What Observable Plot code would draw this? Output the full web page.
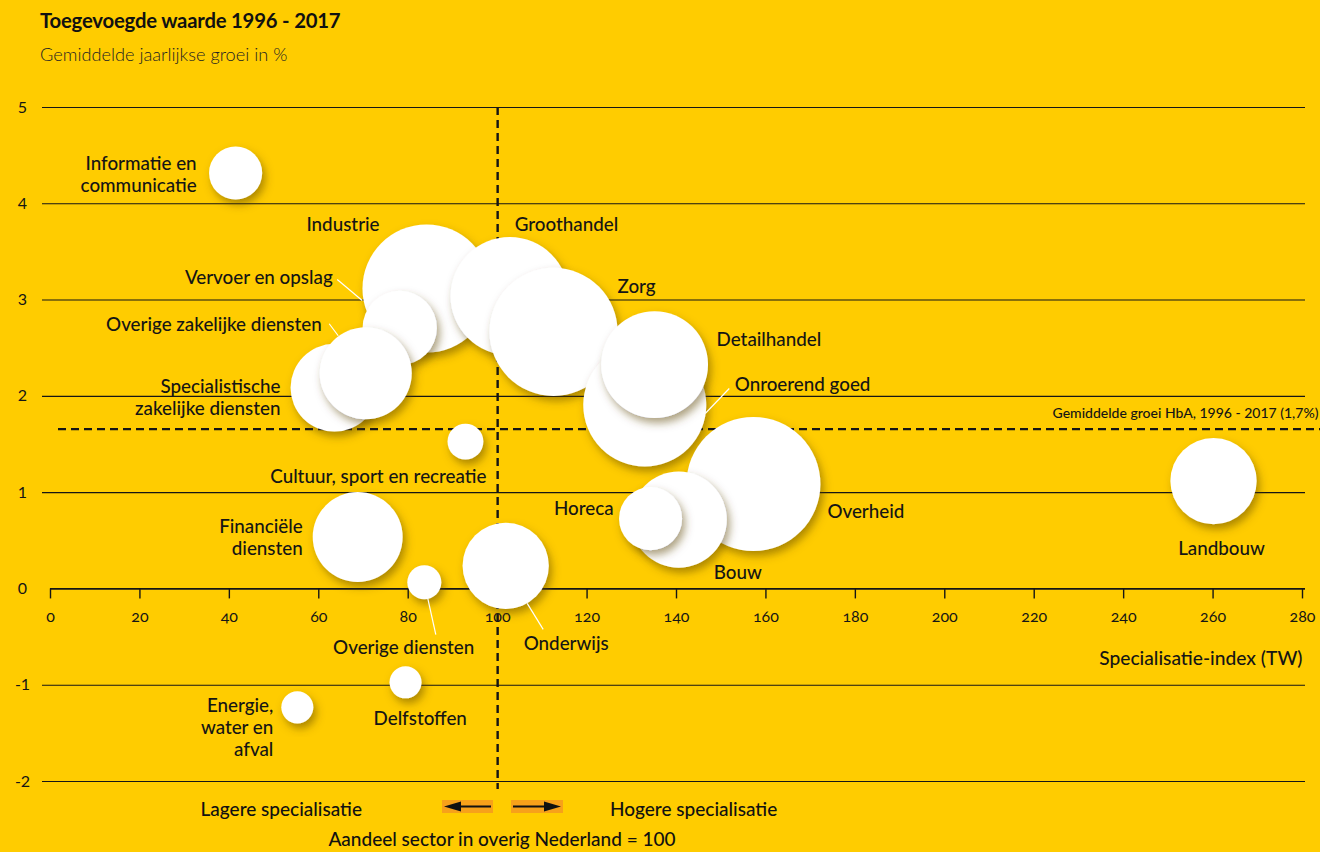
<!DOCTYPE html>
<html>
<head>
<meta charset="utf-8">
<script src="https://cdn.jsdelivr.net/npm/d3@7"></script>
<script src="https://cdn.jsdelivr.net/npm/@observablehq/plot@0.6"></script>
<style>
  html, body { margin: 0; padding: 0; background: #FFCC00; }
  #wrap { position: relative; width: 1320px; height: 852px; overflow: hidden; font-family: Lato, "Noto Sans", sans-serif; color: #111; }
  #wrap svg.plot { position: absolute; left: 0; top: 0; }
  .t { position: absolute; white-space: nowrap; line-height: 22px; font-weight: 500; }
  #title { left: 40px; top: 9px; font-size: 20.3px; font-weight: 700; letter-spacing: -0.2px; }
  #subtitle { left: 40px; top: 43px; font-size: 18.2px; font-weight: 300; color: #222; }
  #lager { right: 958px; top: 798px; font-size: 19px; }
  #hoger { left: 610px; top: 798px; font-size: 19px; }
  #aandeel { left: 502px; transform: translateX(-50%); top: 828px; font-size: 19px; }
  #arrows { position: absolute; left: 0; top: 0; }
</style>
</head>
<body>
<div id="wrap">
  <div id="chart"></div>
  <div class="t" id="title">Toegevoegde waarde 1996 - 2017</div>
  <div class="t" id="subtitle">Gemiddelde jaarlijkse groei in %</div>
  <div class="t" id="lager">Lagere specialisatie</div>
  <div class="t" id="hoger">Hogere specialisatie</div>
  <div class="t" id="aandeel">Aandeel sector in overig Nederland = 100</div>
  <svg id="arrows" width="1320" height="852">
    <rect x="442" y="800" width="51" height="13" fill="#F7A11A"></rect>
    <rect x="511" y="800" width="52" height="13" fill="#F7A11A"></rect>
    <line x1="458" y1="806.5" x2="491" y2="806.5" stroke="#111" stroke-width="1.8"></line>
    <polygon points="444,806.5 461,801.5 461,811.5" fill="#111"></polygon>
    <line x1="513" y1="806.5" x2="546" y2="806.5" stroke="#111" stroke-width="1.8"></line>
    <polygon points="561,806.5 544,801.5 544,811.5" fill="#111"></polygon>
  </svg>
</div>
<script>
// ---- Data ----
const sectors = [
  "Industrie",
  "Vervoer en opslag",
  "Groothandel",
  "Zorg",
  "Onroerend goed",
  "Detailhandel",
  "Specialistische\nzakelijke diensten",
  "Overige zakelijke diensten",
  "Informatie en\ncommunicatie",
  "Cultuur, sport en recreatie",
  "Overheid",
  "Bouw",
  "Horeca",
  "Financiële\ndiensten",
  "Onderwijs",
  "Overige diensten",
  "Landbouw",
  "Energie,\nwater en\nafval",
  "Delfstoffen"
];
// Specialisatie-index (TW), overig Nederland = 100
const specIndex = [84.1, 78.1, 102.7, 112.5, 132.9, 135.1, 63.5, 70.5, 41.4, 92.8, 157.2, 140.5, 134.2, 68.7, 101.8, 83.6, 260.1, 55.2, 79.4];
// Gemiddelde jaarlijkse groei in %
const growth = [3.12, 2.71, 3.04, 2.67, 1.91, 2.33, 2.09, 2.24, 4.32, 1.53, 1.09, 0.72, 0.73, 0.54, 0.24, 0.07, 1.12, -1.23, -0.97];
// Bubble size: aandeel in toegevoegde waarde
const share = [12.8, 4.3, 10.9, 12.8, 11.8, 8.9, 6.0, 6.6, 2.2, 1.0, 14.0, 7.2, 3.1, 6.3, 5.8, 0.9, 5.8, 0.8, 0.8];

const xTicks = [0, 20, 40, 60, 80, 100, 120, 140, 160, 180, 200, 220, 240, 260, 280];
const yTicks = [-2, -1, 0, 1, 2, 3, 4, 5];
const avgGrowth = 1.66;
const avgLabel = "Gemiddelde groei HbA, 1996 - 2017 (1,7%)";
const refIndex = 100;
const xLabel = "Specialisatie-index (TW)";

// ---- Annotation layout (pixel offsets from each bubble centre) ----
const labelLayout = {
  "Industrie": [-47, -65, "end"],
  "Vervoer en opslag": [-67, -51, "end"],
  "Groothandel": [5, -72, "start"],
  "Zorg": [64, -46, "start"],
  "Onroerend goed": [90, -21, "start"],
  "Detailhandel": [62, -26, "start"],
  "Specialistische\nzakelijke diensten": [-54, 9, "end"],
  "Overige zakelijke diensten": [-44, -49, "end"],
  "Informatie en\ncommunicatie": [-39, 1, "end"],
  "Cultuur, sport en recreatie": [21, 34, "end"],
  "Overheid": [74, 27, "start"],
  "Bouw": [35, 52, "start"],
  "Horeca": [-37, -11, "end"],
  "Financiële\ndiensten": [-55, 0, "end"],
  "Onderwijs": [18, 77, "start"],
  "Overige diensten": [50, 65, "end"],
  "Landbouw": [8, 67, "middle"],
  "Energie,\nwater en\nafval": [-24, 20, "end"],
  "Delfstoffen": [-32, 36, "start"]
};
const leaderLayout = {
  "Vervoer en opslag": [-37, -27, -62, -48],
  "Overige zakelijke diensten": [-27, -37, -36, -49],
  "Onroerend goed": [61, 9, 85, -16],
  "Overige diensten": [4, 17, 12, 53],
  "Onderwijs": [22, 38, 38, 64]
};

const data = sectors.map((name, i) => ({name, index: specIndex[i], growth: growth[i], share: share[i]}));

const ink = "#151515";
const chart = Plot.plot({
  width: 1320,
  height: 852,
  marginTop: 107,
  marginBottom: 71,
  marginLeft: 50,
  marginRight: 18,
  x: {domain: [0, 280], axis: null},
  y: {domain: [-2, 5], axis: null},
  r: {type: "sqrt", domain: [0, 14], range: [0, 67]},
  style: {background: "transparent", fontFamily: "Lato, 'Noto Sans', sans-serif", fontSize: "18px", color: ink, overflow: "visible"},
  marks: [
    Plot.ruleY(yTicks.filter(d => d !== 0), {y: d => d, stroke: ink, strokeWidth: 1.1, insetLeft: -8, insetRight: -3}),
    Plot.ruleY([0], {y: d => d, stroke: ink, strokeWidth: 1.7, insetRight: -3}),
    Plot.ruleX(xTicks, {x: d => d, y1: 0, y2: 0, insetBottom: -10, stroke: ink, strokeWidth: 1.4}),
    Plot.text(xTicks, {x: d => d, y: 0, dy: 28, text: d => String(d), fontSize: 16, fill: ink, fontVariant: "oldstyle-nums"}),
    Plot.text(yTicks, {y: d => d, frameAnchor: "left", dx: -28, text: d => String(d), textAnchor: "middle", fontSize: 16, fill: ink}),
    Plot.text([xLabel], {frameAnchor: "right", y: 0, dy: 70, text: d => d, textAnchor: "end", fontSize: 19.2, fontWeight: 500, fill: ink}),
    Plot.ruleX([refIndex], {x: d => d, y1: 5, y2: -2, insetBottom: -8, stroke: ink, strokeWidth: 2.4, strokeDasharray: "8,5"}),
    Plot.ruleY([avgGrowth], {y: d => d, insetLeft: 8, insetRight: -18, stroke: ink, strokeWidth: 2.2, strokeDasharray: "8,5"}),
    Plot.text([avgLabel], {y: avgGrowth, frameAnchor: "right", dx: 16, dy: -16, text: d => d, textAnchor: "end", fontSize: 14, fontWeight: 500, fill: ink}),
    Plot.dot(data, {x: "index", y: "growth", r: "share", fill: "white", sort: null}),
    ...data.map(d => {
      const [dx, dy, anchor] = labelLayout[d.name];
      return Plot.text([d], {x: "index", y: "growth", text: "name", dx, dy, textAnchor: anchor, lineAnchor: "middle", lineHeight: 1.17, fontSize: 18.8, fontWeight: 500, fill: ink});
    })
  ]
});
chart.classList.add("plot");
document.getElementById("chart").appendChild(chart);

// Drop shadows on the bubbles and white leader lines
const svg = d3.select(chart);
const defs = svg.insert("defs", ":first-child");
const f = defs.append("filter").attr("id", "bshadow")
  .attr("x", "-30%").attr("y", "-30%").attr("width", "170%").attr("height", "170%");
f.append("feDropShadow").attr("dx", 3).attr("dy", 5).attr("stdDeviation", 4)
  .attr("flood-color", "#5a4200").attr("flood-opacity", 0.5);
svg.selectAll('g[aria-label="dot"] circle').attr("filter", "url(#bshadow)");

const X = chart.scale("x"), Y = chart.scale("y");
const lg = svg.append("g").attr("stroke", "#fff").attr("stroke-width", 1.2);
for (const [name, [sx, sy, ex, ey]] of Object.entries(leaderLayout)) {
  const d = data.find(e => e.name === name);
  const cx = X.apply(d.index), cy = Y.apply(d.growth);
  lg.append("line").attr("x1", cx + sx).attr("y1", cy + sy).attr("x2", cx + ex).attr("y2", cy + ey);
}
</script>
</body>
</html>
